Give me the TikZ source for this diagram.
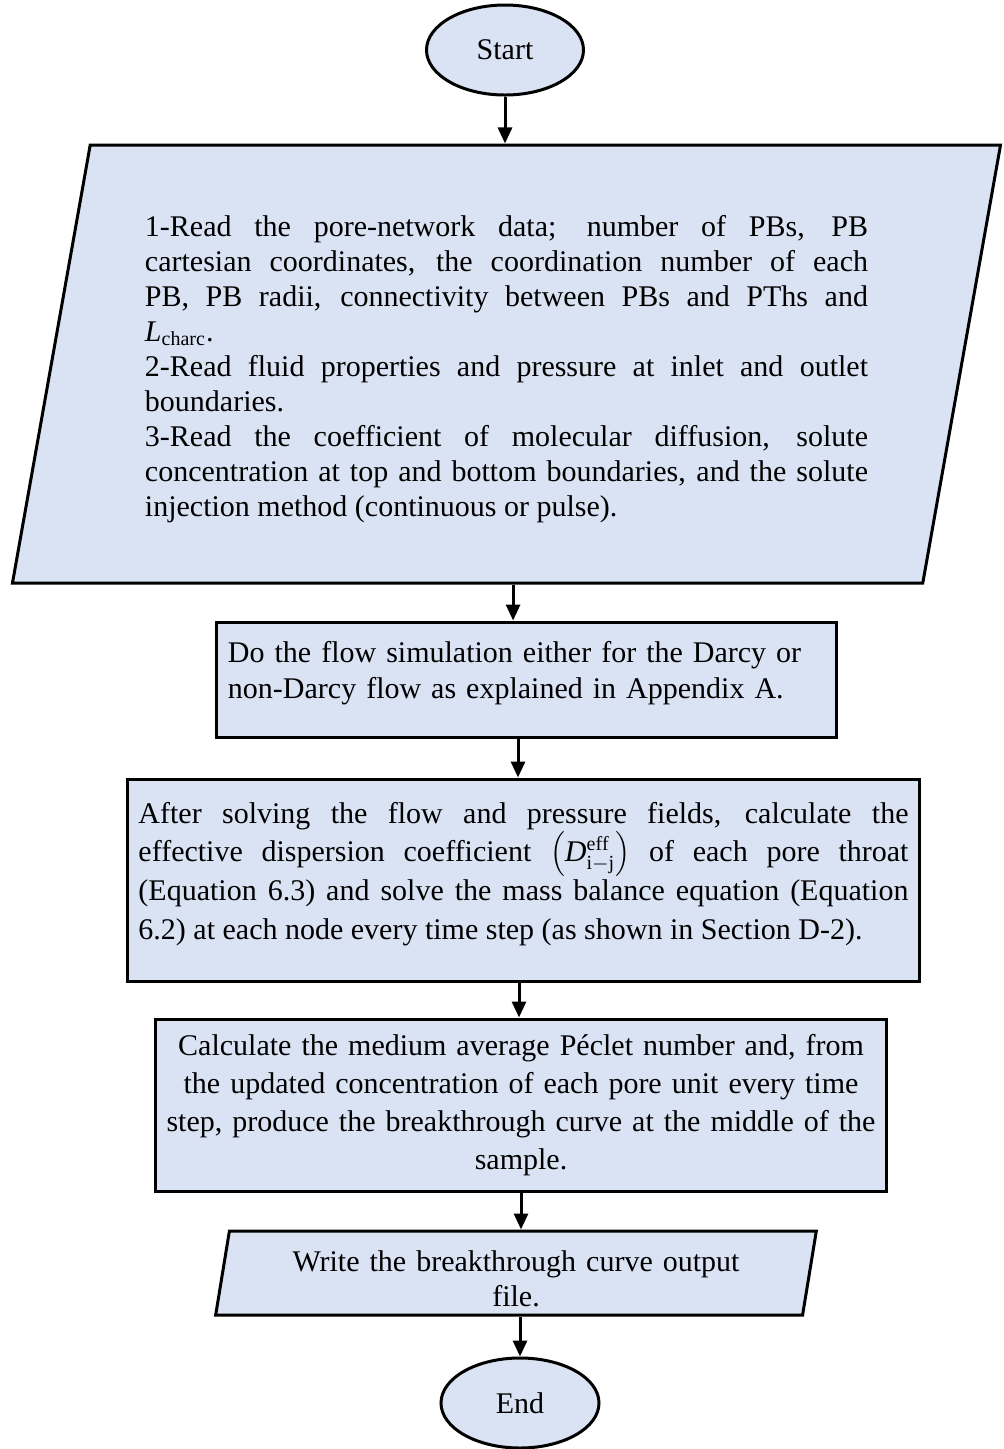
\documentclass[tikz,border=0pt]{standalone}
\usepackage{fontspec}
\setmainfont{Liberation Serif}
\usepackage{xcolor}
\usetikzlibrary{arrows.meta,shapes.geometric,calc}
\definecolor{chartfill}{HTML}{DAE3F3}
\tikzset{
  chartbox/.style={draw, line width=1.2pt, fill=chartfill, inner sep=0pt, font=\fontsize{12}{14}\selectfont},
  termbox/.style={chartbox, ellipse, minimum width=62.8pt, minimum height=36pt},
  iobox/.style={chartbox, trapezium, trapezium stretches=true},
  procbox/.style={chartbox, rectangle},
  chartarrow/.style={-{Triangle[width=5.6pt,length=6.4pt]}, line width=1.2pt}
}

\begin{document}
\begin{tikzpicture}[x=0.4pt, y=-0.4pt]
  \useasboundingbox (0,0) rectangle (1003,1449);

  \node[termbox] (start) at (505,50) {Start};
  \node[iobox, trapezium left angle=78, trapezium right angle=102, minimum width=397.2pt, minimum height=175.2pt, text width=289.2pt, align=justify] (input) at (506.5,364) {\rule{0pt}{12.5pt}1-Read the pore-network data; number of PBs, PB\linebreak
cartesian coordinates, the coordination number of each\linebreak
PB, PB radii, connectivity between PBs and PThs and\linebreak
\textit{L}\textsubscript{charc}.\\
2-Read fluid properties and pressure at inlet and outlet\linebreak
boundaries.\\
3-Read the coefficient of molecular diffusion, solute\linebreak
concentration at top and bottom boundaries, and the solute\linebreak
injection method (continuous or pulse).};
  \node[procbox, minimum width=247.6pt, minimum height=46pt, text width=238.8pt, align=left, font=\fontsize{12}{14.4}\selectfont] (flow) at (526.5,679.5) {Do the flow simulation either for the Darcy or\\non-Darcy flow as explained in Appendix A.\rule[-7.4pt]{0pt}{0pt}};
  \node[procbox, minimum width=316.4pt, minimum height=80.8pt, text width=308pt, align=justify, font=\fontsize{12}{15.5}\selectfont] (disp) at (523.5,880) {After solving the flow and pressure fields, calculate the\linebreak
effective dispersion coefficient $\left(\textit{D}^{\mathrm{eff}}_{\mathrm{i-j}}\right)$ of each pore throat\linebreak
(Equation 6.3) and solve the mass balance equation (Equation\linebreak
6.2) at each node every time step (as shown in Section D-2).\rule[-7.4pt]{0pt}{0pt}};
  \node[procbox, minimum width=292pt, minimum height=68.8pt, text width=284pt, align=center, font=\fontsize{12}{15.2}\selectfont] (peclet) at (521,1105) {Calculate the medium average Péclet number and, from\\the updated concentration of each pore unit every time\\step, produce the breakthrough curve at the middle of the\\sample.};
  \node[iobox, trapezium left angle=80, trapezium right angle=100, minimum width=240.8pt, minimum height=33.6pt, text width=200pt, align=center] (output) at (516,1273) {\rule{0pt}{13pt}Write the breakthrough curve output\\file.};
  \node[termbox, minimum width=63.2pt] (end) at (520,1403) {End};

  % arrows between the steps
  \coordinate (a1) at ($(input.south)+(2.6pt,0)$);
  \coordinate (a2) at ($(flow.south)+(-3.4pt,0)$);
  \coordinate (a3) at ($(disp.south)+(-1.8pt,0)$);
  \draw[chartarrow] (start) -- (start |- input.north);
  \draw[chartarrow] (a1) -- (a1 |- flow.north);
  \draw[chartarrow] (a2) -- (a2 |- disp.north);
  \draw[chartarrow] (a3) -- (a3 |- peclet.north);
  \draw[chartarrow] (peclet) -- (peclet |- output.north);
  \draw[chartarrow] (end |- output.south) -- (end);
\end{tikzpicture}
\end{document}
